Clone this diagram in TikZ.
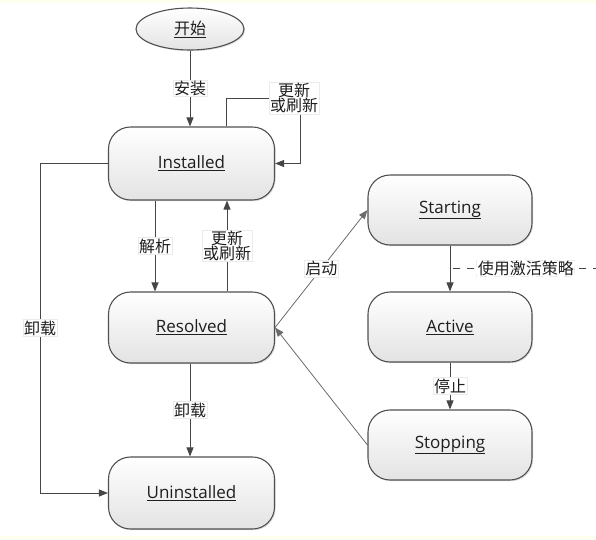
\documentclass[tikz,border=0pt]{standalone}
\usepackage{fontspec}
\setmainfont{Open Sans}
\newfontfamily\cjk{Noto Sans CJK SC}
\usetikzlibrary{arrows.meta,shapes.geometric,shadows,calc}
\definecolor{paleyellow}{RGB}{255,255,238}
\definecolor{edgegray}{RGB}{80,80,80}
\definecolor{linegray}{RGB}{70,70,70}
\definecolor{txt}{RGB}{30,30,30}
\tikzset{
  state/.style={draw=edgegray, line width=1.1pt, rounded corners=22pt,
    top color=white, bottom color=black!11,
    drop shadow={opacity=0.25, shadow xshift=1.2pt, shadow yshift=-1.2pt},
    minimum width=166pt, minimum height=71pt, text=txt,
    font=\fontsize{17}{20}\selectfont},
  startnode/.style={draw=edgegray, line width=1.1pt, ellipse,
    top color=white, bottom color=black!11,
    drop shadow={opacity=0.25, shadow xshift=1.2pt, shadow yshift=-1.2pt},
    minimum width=108pt, minimum height=42pt, text=txt,
    font=\cjk\fontsize{16}{19}\selectfont},
  arr/.style={draw=linegray, line width=0.9pt, -{Triangle[length=9pt,width=7pt]}},
  lbl/.style={fill=white, draw=black!8, inner sep=1pt, text=txt,
    font=\cjk\fontsize{16}{18}\selectfont, align=center}
}
\begin{document}
\begin{tikzpicture}[x=1pt,y=-1pt]
\useasboundingbox (0,0) rectangle (596,539);
\fill[paleyellow] (0,0) rectangle (596,3);
\fill[paleyellow] (0,536) rectangle (596,539);

\node[startnode] (start) at (190,29) {\underline{开始}};
\node[state] (inst) at (191.5,163.5) [minimum height=73pt] {\underline{Installed}};
\node[state] (res) at (191.5,327.5) {\underline{Resolved}};
\node[state] (unin) at (191.5,493) [minimum height=72pt] {\underline{Uninstalled}};
\node[state, minimum width=164pt, minimum height=70pt] (starting) at (450,210) {\underline{Starting}};
\node[state, minimum width=164pt, minimum height=70pt] (active) at (450,327) {\underline{Active}};
\node[state, minimum width=164pt, minimum height=70pt] (stopping) at (450,445) {\underline{Stopping}};

\coordinate (lp) at (300,98);
\coordinate (lc) at (40,163.5);
\coordinate (dl) at (596,268.5);

% start -> installed
\draw[arr] (start.south) -- node[lbl] {安装} (start.south |- inst.north);

% update/refresh loop on installed
\draw[arr] ($(inst.north)+(34.5,0)$) |- (lp) |- (inst.east);
\node[lbl] at ($(lp)+(-6,0)$) {更新\\[-3pt]或刷新};

% resolve
\draw[arr] ($(inst.south)+(-36.5,0)$) -- node[lbl] {解析} ($(res.north)+(-36.5,0)$);
% update/refresh from resolved
\draw[arr] ($(res.north)+(35.5,0)$) -- node[lbl] {更新\\[-3pt]或刷新} ($(inst.south)+(35.5,0)$);

% uninstall from installed
\draw[arr] (inst.west) -- (lc) |- node[lbl, pos=0.25] {卸载} (unin.west);
% uninstall from resolved
\draw[arr] ($(res.south)+(-1.5,0)$) -- node[lbl] {卸载} ($(unin.north)+(-1.5,0)$);

% start
\draw[arr, draw=linegray!80, line width=0.8pt] (res.east) -- node[lbl, pos=0.5] {启动} (starting.west);
% starting -> active with activation policy
\draw[arr] (starting.south) -- (active.north);
\draw[draw=linegray, line width=0.9pt, dash pattern=on 7pt off 7pt, dash phase=-3pt]
  ($(starting.south)!0.5!(active.north)$) -- node[lbl, pos=0.52] {使用激活策略} (dl);
% stop
\draw[arr] (active.south) -- node[lbl] {停止} (stopping.north);
% stopping -> resolved
\draw[arr, draw=linegray!80, line width=0.8pt] (stopping.west) -- (res.east);
\end{tikzpicture}
\end{document}
